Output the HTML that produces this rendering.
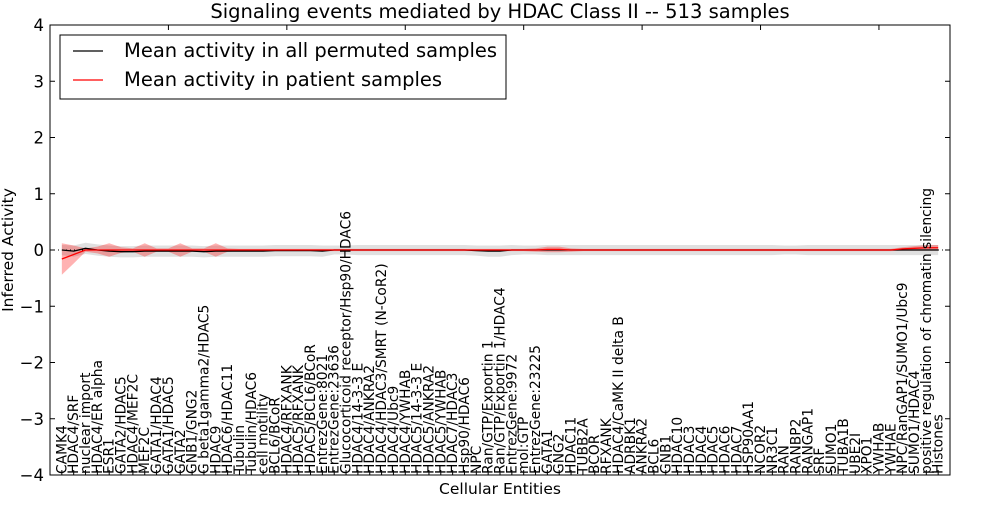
<!DOCTYPE html>
<html><head><meta charset="utf-8"><style>
body{margin:0;background:#fff;}
svg text{font-family:"DejaVu Sans","Liberation Sans",sans-serif;}
</style></head><body>
<svg id="chart" width="1000" height="500" viewBox="0 0 1000 500">
<rect x="0" y="0" width="1000" height="500" fill="#fff"/>
<text x="500" y="18" text-anchor="middle" font-size="19.5">Signaling events mediated by HDAC Class II -- 513 samples</text>
<g id="plot"></g>
</svg>
<script>
const labels=["CAMK4","HDAC4/SRF","nuclear import","HDAC4/ER alpha","ESR1","GATA2/HDAC5","HDAC4/MEF2C","MEF2C","GATA1/HDAC4","GATA1/HDAC5","GATA2","GNB1/GNG2","G beta1gamma2/HDAC5","HDAC9","HDAC6/HDAC11","Tubulin","Tubulin/HDAC6","cell motility","BCL6/BCoR","HDAC4/RFXANK","HDAC5/RFXANK","HDAC5/BCL6/BCoR","EntrezGene:8021","EntrezGene:23636","Glucocorticoid receptor/Hsp90/HDAC6","HDAC4/14-3-3 E","HDAC4/ANKRA2","HDAC4/HDAC3/SMRT (N-CoR2)","HDAC4/Ubc9","HDAC4/YWHAB","HDAC5/14-3-3 E","HDAC5/ANKRA2","HDAC5/YWHAB","HDAC7/HDAC3","Hsp90/HDAC6","NPC","Ran/GTP/Exportin 1","Ran/GTP/Exportin 1/HDAC4","EntrezGene:9972","mol:GTP","EntrezGene:23225","GATA1","GNG2","HDAC11","TUBB2A","BCOR","RFXANK","HDAC4/CaMK II delta B","ADRBK1","ANKRA2","BCL6","GNB1","HDAC10","HDAC3","HDAC4","HDAC5","HDAC6","HDAC7","HSP90AA1","NCOR2","NR3C1","RAN","RANBP2","RANGAP1","SRF","SUMO1","TUBA1B","UBE2I","XPO1","YWHAB","YWHAE","NPC/RanGAP1/SUMO1/Ubc9","SUMO1/HDAC4","positive regulation of chromatin silencing","Histones"];
const permMean=[0,-0.02,0.03,0,-0.02,-0.03,-0.03,-0.02,-0.02,-0.02,-0.02,-0.02,-0.03,-0.02,-0.02,-0.02,-0.02,-0.02,-0.01,-0.01,-0.01,-0.01,-0.02,0,0,0,0,0,0,0,0,0,0,0,0,-0.01,-0.02,-0.02,0,0,0,0,0,0,0,0,0,0,0,0,0,0,0,0,0,0,0,0,0,0,0,0,0,0,0,0,0,0,0,0,0,0,0,0,0];
const permSd=[0.09,0.1,0.1,0.1,0.1,0.1,0.1,0.1,0.1,0.1,0.1,0.1,0.1,0.1,0.1,0.1,0.1,0.1,0.1,0.1,0.1,0.1,0.1,0.08,0.08,0.09,0.09,0.09,0.09,0.09,0.09,0.09,0.09,0.09,0.09,0.09,0.1,0.1,0.09,0.08,0.08,0.09,0.09,0.09,0.09,0.09,0.09,0.09,0.09,0.09,0.09,0.09,0.09,0.09,0.09,0.09,0.09,0.09,0.09,0.09,0.09,0.08,0.08,0.09,0.09,0.09,0.09,0.09,0.09,0.09,0.09,0.09,0.09,0.09,0.09];
const patMean=[-0.16,-0.08,0,0,0,0,0,0,0,0,0,0,0,0,0,0,0,0,0,0,0,0,0,0,0,0,0,0,0,0,0,0,0,0,0,0,0,0,0,0,0,0.01,0.01,0,0,0,0,0,0,0,0,0,0,0,0,0,0,0,0,0,0,0,0,0,0,0,0,0,0,0,0,0.02,0.03,0.04,0.04];
const patSd=[0.28,0.16,0.03,0.06,0.12,0.05,0.03,0.12,0.03,0.03,0.12,0.03,0.03,0.12,0.03,0.02,0.02,0.02,0.02,0.02,0.02,0.02,0.02,0.02,0.02,0.02,0.02,0.02,0.02,0.02,0.02,0.02,0.02,0.02,0.02,0.02,0.02,0.02,0.02,0.02,0.03,0.05,0.05,0.03,0.02,0.02,0.02,0.02,0.02,0.02,0.02,0.02,0.02,0.02,0.02,0.02,0.02,0.02,0.02,0.02,0.02,0.02,0.02,0.02,0.02,0.02,0.02,0.02,0.02,0.02,0.02,0.03,0.04,0.05,0.05];
const yTicks=[-4,-3,-2,-1,0,1,2,3,4];
const topTicks=[10,20,30,40,50,60,70];

const L=50,R=950,T=25,B=475,NS="http://www.w3.org/2000/svg";
const xs=i=>L+(i+1)*(R-L)/76;
const xt=v=>L+v*(R-L)/76;
const ys=v=>T+(4-v)*(B-T)/8;
const g=document.getElementById('plot');
function mk(tag,attrs){const e=document.createElementNS(NS,tag);for(const k in attrs)e.setAttribute(k,attrs[k]);g.appendChild(e);return e;}
function band(m,s,fill,op,name){
  let d="";m.forEach((v,i)=>{d+=(i?"L":"M")+xs(i)+","+ys(v+s[i]);});
  for(let i=m.length-1;i>=0;i--)d+="L"+xs(i)+","+ys(m[i]-s[i]);
  const p=mk('path',{d:d+"Z",fill:fill,'fill-opacity':op,stroke:'none'});
  
  
}
function line(m,color,name){
  const p=mk('polyline',{points:m.map((v,i)=>xs(i)+","+ys(v)).join(" "),fill:'none',stroke:color,'stroke-width':1.3});
  
  
}
band(permMean,permSd,'#bbbbbb',0.45,'permuted-band');
band(patMean,patSd,'#ff0000',0.3,'patient-band');
const z=mk('line',{x1:L,x2:R,y1:ys(0),y2:ys(0),stroke:'#000','stroke-dasharray':'1,3','stroke-width':1});


line(permMean,'#000','permuted-mean-line');
line(patMean,'#ff0000','patient-mean-line');
const fr=mk('rect',{x:L,y:T,width:R-L,height:B-T,fill:'none',stroke:'#000','stroke-width':1});


yTicks.forEach(v=>{
  const y=ys(v);
  mk('line',{x1:L,x2:L+5,y1:y,y2:y,stroke:'#000'});
  mk('line',{x1:R-5,x2:R,y1:y,y2:y,stroke:'#000'});
  const t=mk('text',{x:L-6,y:y+6,'text-anchor':'end','font-size':16.5});
  t.textContent=(v<0?"\u2212":"")+Math.abs(v);
  
  
});
topTicks.forEach(v=>{mk('line',{x1:xt(v),x2:xt(v),y1:T,y2:T+5,stroke:'#000'});});
labels.forEach((s,i)=>{
  const x=xs(i);
  mk('line',{x1:x,x2:x,y1:B,y2:B-5,stroke:'#000'});
  const t=mk('text',{x:0,y:0,'font-size':13.8,transform:`translate(${x+4.5},${B-1}) rotate(-90)`});
  t.textContent=s;
  
  
});
const yl=mk('text',{x:0,y:0,'font-size':15.5,'text-anchor':'middle',transform:`translate(13,${(T+B)/2}) rotate(-90)`});
yl.textContent="Inferred Activity";


const xl=mk('text',{x:(L+R)/2,y:494,'font-size':15.5,'text-anchor':'middle'});
xl.textContent="Cellular Entities";


const lg=mk('rect',{x:60,y:35,width:446,height:64,fill:'#fff',stroke:'#000','stroke-width':1});


[["Mean activity in all permuted samples","#000",51],["Mean activity in patient samples","#ff0000",80]].forEach(([s,c,y])=>{
  mk('line',{x1:73,x2:103,y1:y,y2:y,stroke:c,'stroke-width':1.3});
  const t=mk('text',{x:124,y:y+6,'font-size':19.5});
  t.textContent=s;
  
  
});
</script>
</body></html>
